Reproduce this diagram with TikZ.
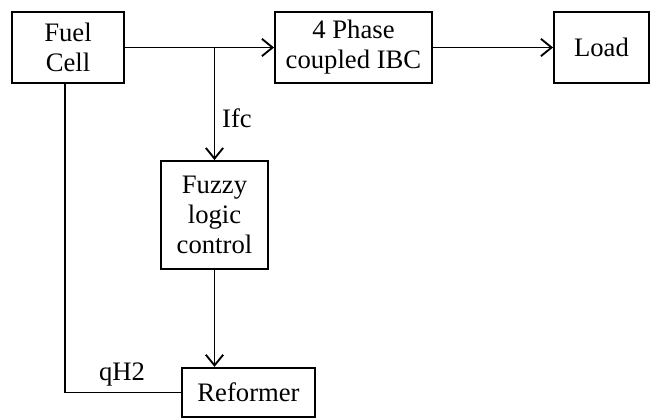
\documentclass[tikz,border=0pt]{standalone}
\usepackage{fontspec}
\setmainfont{Liberation Serif}
\usetikzlibrary{arrows.meta}

\tikzset{
  blk/.style={draw, line width=1.4pt, inner sep=0.75pt, align=center, font=\fontsize{20}{22.5}\selectfont},
  lbl/.style={inner sep=0.75pt, font=\fontsize{20}{22.5}\selectfont},
  flow/.style={line width=1.4pt, -{Straight Barb[length=8pt, width=13pt, line width=1.4pt]}}
}

\begin{document}
\begin{tikzpicture}[x=0.75pt,y=0.75pt,yscale=-1,xscale=1]
\useasboundingbox (0,0) rectangle (650,418);

%Shape: Rectangle [id:fc] 
\node [blk, minimum width=84pt, minimum height=53pt] (fc) at (68,47.5) {Fuel\\Cell};
%Shape: Rectangle [id:ibc] 
\node [blk, minimum width=117.75pt, minimum height=53pt] (ibc) at (353.5,47.5) {4 Phase\\coupled IBC};
%Shape: Rectangle [id:load] 
\node [blk, minimum width=71.25pt, minimum height=53pt] (load) at (601.5,47.5) {Load};
%Shape: Rectangle [id:flc] 
\node [blk, minimum width=80pt, minimum height=81pt] (flc) at (214.5,215) {Fuzzy\\logic\\control};
%Shape: Rectangle [id:ref] 
\node [blk, minimum width=99.75pt, minimum height=37pt] (ref) at (248.5,392.5) {Reformer};

%Points 
\coordinate (br) at (214.5,47.5);
\coordinate (fcb) at (65,83);

%Straight Lines [id:fc-ibc] 
\draw [flow] (fc.east) -- (ibc.west);
%Straight Lines [id:ibc-load] 
\draw [flow] (ibc.east) -- (load.west);
%Straight Lines [id:br-flc] 
\draw [flow] (br) -- (flc.north);
%Straight Lines [id:flc-ref] 
\draw [flow] (flc.south) -- (flc.south |- ref.north);
%Straight Lines [id:fc-ref] 
\draw [line width=1.4pt] (fcb) |- (ref.west);

% Text Node
\node [lbl] (ifc) at (237,118) {Ifc};
% Text Node
\node [lbl] (qh) at (122,375) {qH2};

\end{tikzpicture}
\end{document}
